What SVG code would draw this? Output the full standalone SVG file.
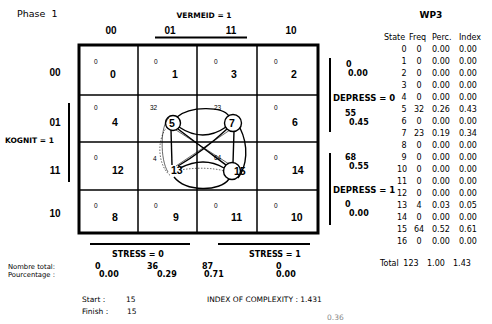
<svg xmlns="http://www.w3.org/2000/svg" width="492" height="324" viewBox="0 0 492 324">
<style>
.bg{fill:#fff}
.b{font-family:"DejaVu Sans",sans-serif;font-weight:bold;fill:#000}
.r{font-family:"DejaVu Sans",sans-serif;fill:#000}
.big{font-family:"Liberation Sans",Arial,sans-serif;font-weight:bold;font-size:10.5px;fill:#000}
.sm{font-family:"Liberation Sans",Arial,sans-serif;font-size:6.5px;fill:#000}
.hd{font-family:"Liberation Sans",Arial,sans-serif;font-weight:bold;font-size:10px;fill:#000;text-anchor:middle}
.tb{font-family:"DejaVu Sans",sans-serif;font-size:8px;fill:#000}
.bar{stroke:#000;stroke-width:2;fill:none}
.grid{stroke:#000;stroke-width:1.5;fill:none}
.thick{stroke:#000;stroke-width:1.4;fill:none}
.thin{stroke:#000;stroke-width:0.6;fill:none}
.dot{stroke:#000;stroke-width:0.6;fill:none;stroke-dasharray:1.5 1.5}
</style>
<rect class="bg" x="0" y="0" width="492" height="324"/>
<text class="r" x="17" y="17" font-size="9.5" word-spacing="3">Phase 1</text>

<g id="col-headers">
<text class="b" x="204" y="18" font-size="7.5" text-anchor="middle">VERMEID = 1</text>
<text class="hd" x="111" y="34">00</text>
<text class="hd" x="170" y="34">01</text>
<text class="hd" x="231" y="34">11</text>
<text class="hd" x="291" y="34">10</text>
<line class="bar" x1="155" y1="37.5" x2="247" y2="37.5" stroke-width="1.5"/>
</g>

<g id="row-headers">
<text class="hd" x="55" y="76">00</text>
<text class="hd" x="55" y="126">01</text>
<text class="hd" x="55" y="174">11</text>
<text class="hd" x="55" y="217">10</text>
<line class="bar" x1="69" y1="103" x2="69" y2="182"/>
<text class="b" x="5" y="143" font-size="7.5">KOGNIT = 1</text>
</g>

<g id="grid">
<rect x="79" y="45" width="239" height="188" fill="none" stroke="#000" stroke-width="3"/>
<line class="grid" x1="138" y1="45" x2="138" y2="233"/>
<line class="grid" x1="197" y1="45" x2="197" y2="233"/>
<line class="grid" x1="257" y1="45" x2="257" y2="233"/>
<line class="grid" x1="79" y1="95" x2="318" y2="95"/>
<line class="grid" x1="79" y1="142" x2="318" y2="142"/>
<line class="grid" x1="79" y1="190" x2="318" y2="190"/>
</g>

<g id="cell-0"><text class="sm" x="94" y="64">0</text><text class="big" x="110" y="78">0</text></g>
<g id="cell-1"><text class="sm" x="154" y="64">0</text><text class="big" x="172" y="78">1</text></g>
<g id="cell-3"><text class="sm" x="214" y="64">0</text><text class="big" x="231" y="78">3</text></g>
<g id="cell-2"><text class="sm" x="274" y="64">0</text><text class="big" x="291" y="78">2</text></g>

<g id="cell-4"><text class="sm" x="94" y="110">0</text><text class="big" x="112" y="126">4</text></g>
<g id="cell-5"><text class="sm" x="150" y="110">32</text><circle class="thick" cx="173" cy="123" r="7.5"/><text class="big" x="169" y="127">5</text></g>
<g id="cell-7"><text class="sm" x="214" y="110">23</text><circle class="thick" cx="233" cy="123" r="8.5"/><text class="big" x="229" y="127">7</text></g>
<g id="cell-6"><text class="sm" x="274" y="110">0</text><text class="big" x="292" y="126">6</text></g>

<g id="cell-12"><text class="sm" x="94" y="160">0</text><text class="big" x="112" y="174">12</text></g>
<g id="cell-13"><text class="sm" x="153" y="161">4</text><text class="big" x="171" y="174">13</text></g>
<g id="cell-15"><text class="sm" x="214" y="160">64</text><circle class="thick" cx="232" cy="171" r="8.5"/><text class="big" x="234" y="175">15</text></g>
<g id="cell-14"><text class="sm" x="274" y="160">0</text><text class="big" x="292" y="174">14</text></g>

<g id="cell-8"><text class="sm" x="94" y="208">0</text><text class="big" x="112" y="221">8</text></g>
<g id="cell-9"><text class="sm" x="154" y="208">0</text><text class="big" x="173" y="221">9</text></g>
<g id="cell-11"><text class="sm" x="214" y="208">0</text><text class="big" x="231" y="221">11</text></g>
<g id="cell-10"><text class="sm" x="274" y="208">0</text><text class="big" x="291" y="221">10</text></g>

<g id="connectors">
<path class="thick" d="M177,117 C190,106 222,106 229,116"/>
<path class="thick" d="M179,127 Q203,143 226,127"/>
<path class="thick" d="M180,168 Q204,156 224,168"/>
<path class="thick" d="M174,177 C186,192 220,192 229,179"/>
<path class="thick" d="M171,130 L172,165"/>
<path class="dot" d="M167,127 C156,140 158,167 171,176"/>
<path class="thick" d="M234,131 L233,163"/>
<path class="thick" d="M240,128 C249,146 247,166 238,178"/>
<path class="thick" d="M178,129 C195,142 214,156 226,165"/>
<path class="thick" d="M227,129 C213,142 195,156 178,166"/>
<path class="thin" d="M176,130 L229,164"/>
<path class="thin" d="M230,130 L176,166"/>
<path class="thin" d="M169,118 C160,125 160,160 168,172"/>
<path class="dot" d="M180,170 Q205,166 225,171"/>
</g>

<g id="depress">
<line class="bar" x1="330" y1="58" x2="330" y2="132"/>
<line class="bar" x1="330" y1="153" x2="330" y2="225"/>
<text class="b" x="346" y="67" font-size="8">0</text>
<text class="b" x="348" y="76" font-size="8">0.00</text>
<text class="b" x="333" y="101" font-size="8.5">DEPRESS = 0</text>
<text class="b" x="345" y="116" font-size="8">55</text>
<text class="b" x="349" y="125" font-size="8">0.45</text>
<text class="b" x="345" y="160" font-size="8">68</text>
<text class="b" x="349" y="169" font-size="8">0.55</text>
<text class="b" x="333" y="193" font-size="8.5">DEPRESS = 1</text>
<text class="b" x="345" y="207" font-size="8">0</text>
<text class="b" x="349" y="216" font-size="8">0.00</text>
</g>

<g id="stress">
<line class="bar" x1="90" y1="244" x2="190" y2="244"/>
<line class="bar" x1="218" y1="244" x2="310" y2="244"/>
<text class="b" x="138" y="257" font-size="8" text-anchor="middle">STRESS = 0</text>
<text class="b" x="275" y="257" font-size="8" text-anchor="middle">STRESS = 1</text>
<text class="r" x="8" y="269" font-size="6.8">Nombre total:</text>
<text class="r" x="8" y="276.5" font-size="6.8">Pourcentage :</text>
<text class="b" x="95" y="269" font-size="8">0</text>
<text class="b" x="99" y="277" font-size="8">0.00</text>
<text class="b" x="147" y="269" font-size="8">36</text>
<text class="b" x="157" y="277" font-size="8">0.29</text>
<text class="b" x="202" y="269" font-size="8">87</text>
<text class="b" x="204" y="277" font-size="8">0.71</text>
<text class="b" x="276" y="269" font-size="8">0</text>
<text class="b" x="276" y="277" font-size="8">0.00</text>
</g>

<g id="footer">
<text class="r" x="82" y="302" font-size="7.5">Start :</text>
<text class="r" x="126" y="302" font-size="7.5">15</text>
<text class="r" x="82" y="314" font-size="7.5">Finish :</text>
<text class="r" x="127" y="314" font-size="7.5">15</text>
<text class="r" x="207" y="302" font-size="7.5">INDEX OF COMPLEXITY : 1.431</text>
<text x="327" y="320" font-family="'DejaVu Sans',sans-serif" font-size="7.5" fill="#888">0.36</text>
</g>

<g id="table">
<text class="b" x="431" y="18" font-size="9" text-anchor="middle">WP3</text>
<g class="tb">
<text x="384" y="40">State</text>
<text x="409" y="40">Freq</text>
<text x="432" y="40">Perc.</text>
<text x="459" y="40">Index</text>
<text x="404" y="52" text-anchor="middle">0</text><text x="419" y="52" text-anchor="middle">0</text><text x="432" y="52">0.00</text><text x="459" y="52">0.00</text>
<text x="404" y="64" text-anchor="middle">1</text><text x="419" y="64" text-anchor="middle">0</text><text x="432" y="64">0.00</text><text x="459" y="64">0.00</text>
<text x="404" y="76" text-anchor="middle">2</text><text x="419" y="76" text-anchor="middle">0</text><text x="432" y="76">0.00</text><text x="459" y="76">0.00</text>
<text x="404" y="88" text-anchor="middle">3</text><text x="419" y="88" text-anchor="middle">0</text><text x="432" y="88">0.00</text><text x="459" y="88">0.00</text>
<text x="404" y="100" text-anchor="middle">4</text><text x="419" y="100" text-anchor="middle">0</text><text x="432" y="100">0.00</text><text x="459" y="100">0.00</text>
<text x="404" y="112" text-anchor="middle">5</text><text x="419" y="112" text-anchor="middle">32</text><text x="432" y="112">0.26</text><text x="459" y="112">0.43</text>
<text x="404" y="124" text-anchor="middle">6</text><text x="419" y="124" text-anchor="middle">0</text><text x="432" y="124">0.00</text><text x="459" y="124">0.00</text>
<text x="404" y="136" text-anchor="middle">7</text><text x="419" y="136" text-anchor="middle">23</text><text x="432" y="136">0.19</text><text x="459" y="136">0.34</text>
<text x="404" y="148" text-anchor="middle">8</text><text x="419" y="148" text-anchor="middle">0</text><text x="432" y="148">0.00</text><text x="459" y="148">0.00</text>
<text x="404" y="160" text-anchor="middle">9</text><text x="419" y="160" text-anchor="middle">0</text><text x="432" y="160">0.00</text><text x="459" y="160">0.00</text>
<text x="402" y="172" text-anchor="middle">10</text><text x="419" y="172" text-anchor="middle">0</text><text x="432" y="172">0.00</text><text x="459" y="172">0.00</text>
<text x="402" y="184" text-anchor="middle">11</text><text x="419" y="184" text-anchor="middle">0</text><text x="432" y="184">0.00</text><text x="459" y="184">0.00</text>
<text x="402" y="196" text-anchor="middle">12</text><text x="419" y="196" text-anchor="middle">0</text><text x="432" y="196">0.00</text><text x="459" y="196">0.00</text>
<text x="402" y="208" text-anchor="middle">13</text><text x="419" y="208" text-anchor="middle">4</text><text x="432" y="208">0.03</text><text x="459" y="208">0.05</text>
<text x="402" y="220" text-anchor="middle">14</text><text x="419" y="220" text-anchor="middle">0</text><text x="432" y="220">0.00</text><text x="459" y="220">0.00</text>
<text x="402" y="232" text-anchor="middle">15</text><text x="419" y="232" text-anchor="middle">64</text><text x="432" y="232">0.52</text><text x="459" y="232">0.61</text>
<text x="402" y="244" text-anchor="middle">16</text><text x="419" y="244" text-anchor="middle">0</text><text x="432" y="244">0.00</text><text x="459" y="244">0.00</text>
<text x="380" y="266">Total</text><text x="411" y="266" text-anchor="middle">123</text><text x="427" y="266">1.00</text><text x="453" y="266">1.43</text>
</g>
</g>
</svg>
